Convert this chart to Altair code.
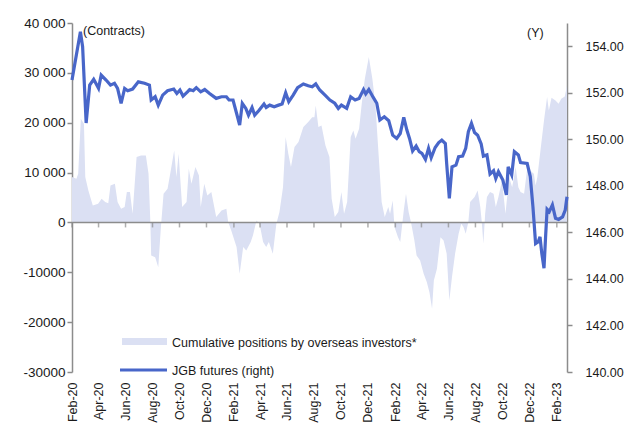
import altair as alt
import pandas as pd

# JGB futures (right axis, yen)
line_dates = [
    "2020-02-01", "2020-02-20", "2020-02-25", "2020-03-04", "2020-03-12", "2020-03-21",
    "2020-04-01", "2020-04-07", "2020-04-18", "2020-04-28", "2020-05-07", "2020-05-14",
    "2020-05-22", "2020-05-30", "2020-06-06", "2020-06-17", "2020-06-30", "2020-07-14",
    "2020-07-25", "2020-07-29", "2020-08-07", "2020-08-14", "2020-08-24", "2020-09-04",
    "2020-09-18", "2020-09-25", "2020-10-02", "2020-10-09", "2020-10-19", "2020-10-24",
    "2020-11-01", "2020-11-08", "2020-11-18", "2020-11-27", "2020-12-08", "2020-12-23",
    "2021-01-04", "2021-01-15", "2021-01-21", "2021-01-30", "2021-02-07", "2021-02-14",
    "2021-02-20", "2021-02-28", "2021-03-06", "2021-03-14", "2021-03-20", "2021-03-29",
    "2021-04-10", "2021-04-15", "2021-04-23", "2021-05-03", "2021-05-13", "2021-05-21",
    "2021-05-29", "2021-06-05", "2021-06-15", "2021-06-25", "2021-07-08", "2021-07-19",
    "2021-07-28", "2021-08-05", "2021-08-14", "2021-08-26", "2021-09-06", "2021-09-17",
    "2021-09-25", "2021-10-02", "2021-10-14", "2021-10-23", "2021-11-02", "2021-11-11",
    "2021-11-21", "2021-11-26", "2021-12-03", "2021-12-13", "2021-12-21", "2021-12-28",
    "2022-01-07", "2022-01-17", "2022-01-26", "2022-02-04", "2022-02-12", "2022-02-20",
    "2022-02-27", "2022-03-05", "2022-03-12", "2022-03-20", "2022-03-27", "2022-04-02",
    "2022-04-10", "2022-04-17", "2022-04-23", "2022-05-02", "2022-05-10", "2022-05-17",
    "2022-05-25", "2022-05-28", "2022-06-03", "2022-06-09", "2022-06-18", "2022-06-24",
    "2022-07-03", "2022-07-10", "2022-07-16", "2022-07-23", "2022-07-30", "2022-08-06",
    "2022-08-14", "2022-08-19", "2022-08-27", "2022-09-03", "2022-09-11", "2022-09-16",
    "2022-09-22", "2022-10-02", "2022-10-10", "2022-10-14", "2022-10-22", "2022-10-28",
    "2022-11-06", "2022-11-11", "2022-11-26", "2022-12-03", "2022-12-09", "2022-12-15",
    "2022-12-21", "2022-12-25", "2022-12-29", "2023-01-03", "2023-01-07", "2023-01-10",
    "2023-01-15", "2023-01-22", "2023-01-29", "2023-02-05", "2023-02-14", "2023-02-20",
    "2023-02-24",
]
line_values = [
    152.55, 154.62, 153.98, 150.70, 152.33, 152.58,
    152.19, 152.76, 152.55, 152.33, 152.41, 152.19,
    151.55, 152.19, 152.09, 152.16, 152.47, 152.41,
    152.33, 151.69, 151.83, 151.47, 151.90, 152.09,
    152.16, 151.97, 152.12, 151.86, 152.04, 152.14,
    152.09, 152.22, 152.04, 152.14, 151.97, 151.76,
    151.83, 151.83, 151.69, 151.69, 151.12, 150.61,
    151.55, 151.33, 151.04, 151.37, 151.04, 151.23,
    151.52, 151.37, 151.47, 151.40, 151.47, 151.52,
    152.00, 151.62, 151.90, 152.22, 152.38, 152.30,
    152.26, 152.38, 152.12, 151.90, 151.69, 151.55,
    151.33, 151.47, 151.33, 151.83, 151.69, 151.76,
    152.14, 151.95, 152.14, 151.80, 151.55, 150.83,
    150.97, 150.80, 150.18, 150.04, 150.25, 150.94,
    150.40, 150.04, 149.50, 149.71, 149.47, 149.40,
    149.14, 149.61, 149.21, 149.65, 149.86, 149.97,
    149.82, 148.96, 147.46, 148.82, 148.89, 149.25,
    149.28, 149.61, 150.33, 150.69, 150.29, 150.18,
    149.80, 149.28, 149.33, 148.51, 148.65, 148.32,
    148.61, 148.25, 147.61, 148.82, 148.47, 149.47,
    149.33, 149.00, 148.96, 148.40, 147.10, 145.52,
    145.60, 145.81, 145.10, 144.46, 145.96, 146.99,
    146.89, 147.18, 146.61, 146.56, 146.67, 146.96,
    147.53,
]

# Cumulative positions by overseas investors (left axis, contracts)
area_dates = [
    "2020-02-01", "2020-02-11", "2020-02-15", "2020-02-21", "2020-02-28", "2020-03-02",
    "2020-03-09", "2020-03-19", "2020-03-31", "2020-04-08", "2020-04-16", "2020-04-23",
    "2020-04-28", "2020-05-08", "2020-05-14", "2020-05-22", "2020-05-30", "2020-06-04",
    "2020-06-11", "2020-06-17", "2020-06-26", "2020-07-06", "2020-07-17", "2020-07-23",
    "2020-07-27", "2020-07-29", "2020-08-07", "2020-08-14", "2020-08-20", "2020-08-26",
    "2020-09-04", "2020-09-10", "2020-09-19", "2020-09-24", "2020-09-29", "2020-10-07",
    "2020-10-17", "2020-10-22", "2020-10-28", "2020-11-06", "2020-11-14", "2020-11-18",
    "2020-11-26", "2020-12-03", "2020-12-12", "2020-12-23", "2021-01-04", "2021-01-15",
    "2021-01-19", "2021-01-26", "2021-02-07", "2021-02-14", "2021-02-22", "2021-03-01",
    "2021-03-11", "2021-03-16", "2021-03-24", "2021-03-31", "2021-04-08", "2021-04-15",
    "2021-04-21", "2021-04-30", "2021-05-08", "2021-05-15", "2021-05-23", "2021-05-29",
    "2021-06-04", "2021-06-10", "2021-06-18", "2021-06-27", "2021-07-08", "2021-07-19",
    "2021-07-28", "2021-08-02", "2021-08-05", "2021-08-11", "2021-08-18", "2021-08-27",
    "2021-09-05", "2021-09-10", "2021-09-17", "2021-09-25", "2021-10-02", "2021-10-08",
    "2021-10-15", "2021-10-23", "2021-10-29", "2021-11-03", "2021-11-11", "2021-11-17",
    "2021-11-24", "2021-12-03", "2021-12-11", "2021-12-18", "2021-12-24", "2022-01-01",
    "2022-01-08", "2022-01-16", "2022-01-20", "2022-01-26", "2022-01-30", "2022-02-07",
    "2022-02-12", "2022-02-20", "2022-02-25", "2022-03-03", "2022-03-09", "2022-03-16",
    "2022-03-21", "2022-03-29", "2022-04-06", "2022-04-13", "2022-04-19", "2022-04-25",
    "2022-04-29", "2022-05-06", "2022-05-14", "2022-05-21", "2022-05-28", "2022-06-03",
    "2022-06-09", "2022-06-16", "2022-06-24", "2022-06-30", "2022-07-05", "2022-07-10",
    "2022-07-16", "2022-07-20", "2022-07-30", "2022-08-06", "2022-08-12", "2022-08-15",
    "2022-08-19", "2022-08-23", "2022-08-27", "2022-09-03", "2022-09-11", "2022-09-16",
    "2022-09-22", "2022-09-30", "2022-10-08", "2022-10-16", "2022-10-23", "2022-10-31",
    "2022-11-06", "2022-11-11", "2022-11-19", "2022-11-26", "2022-12-03", "2022-12-11",
    "2022-12-15", "2022-12-19", "2022-12-26", "2023-01-03", "2023-01-10", "2023-01-14",
    "2023-01-20", "2023-01-29", "2023-02-05", "2023-02-11", "2023-02-19", "2023-02-24",
]
area_values = [
    9090, 8770, 9770, 20800, 19800, 9090,
    6420, 3410, 3750, 4750, 4080, 3870,
    7420, 7760, 4080, 2740, 3070, 6080,
    6080, 1740, 13100, 13440, 13440, 9770,
    400, -6620, -6960, -8970, -940, 5760,
    6760, 9770, 14440, 9090, 13780, 3070,
    4080, 10770, 7760, 11100, 9430, 3070,
    7760, 5420, 6080, 1070, 2410, 2740,
    70, -1600, -4950, -10290, -4950, -5620,
    -3950, -2610, 400, -270, -3950, -4950,
    -3950, -6290, -270, 2070, 7080, 17110,
    13780, 11100, 15110, 16110, 19120, 20120,
    21120, 21120, 23470, 19120, 19460, 15450,
    13100, 4750, 1070, 2070, 6080, 1740,
    4080, 17110, 18460, 16790, 18800, 23810,
    28830, 33160, 28830, 23470, 15110, 4080,
    1070, 3070, 1740, 4410, -940, -2950,
    -3950, 2410, 5760, 2070, -270, -3610,
    -6620, -7620, -10290, -11970, -13980, -17310,
    -11630, -9290, -2950, -3610, -6290, -15650,
    -10970, -6290, -2270, -270, -940, -2270,
    70, 4080, 5080, 6420, 3070, 400,
    -4280, 1740, 5080, 6080, 5760, 3070,
    5080, 8430, 1740, 9090, 7080, 11100,
    7080, 6080, 5760, 10770, 10430, 9770,
    7420, 9090, 14440, 20460, 25140, 22470,
    25010, 24470, 23810, 24810, 25280, 27480,
]

tick_dates = [
    "2020-02-01", "2020-04-01", "2020-06-01", "2020-08-01", "2020-10-01", "2020-12-01",
    "2021-02-01", "2021-04-01", "2021-06-01", "2021-08-01", "2021-10-01", "2021-12-01",
    "2022-02-01", "2022-04-01", "2022-06-01", "2022-08-01", "2022-10-01", "2022-12-01",
    "2023-02-01",
]

left_ticks = [-30000, -20000, -10000, 0, 10000, 20000, 30000, 40000]
right_ticks = [140, 142, 144, 146, 148, 150, 152, 154]

LINE_COLOR = "#4866c9"
AREA_COLOR = "#dbe0f3"
AXIS_COLOR = "#8c8c8c"
TEXT_COLOR = "#1a1a1a"
FONT = "Liberation Sans"

W, H = 495, 349

area_df = pd.DataFrame({"date": area_dates, "value": area_values})
line_df = pd.DataFrame({"date": line_dates, "price": line_values})
tick_df = pd.DataFrame({"date": tick_dates})
one = pd.DataFrame({"a": [0]})


def dt(s):
    y, m, d = (int(p) for p in s.split("-"))
    return alt.DateTime(year=y, month=m, date=d, utc=True)


x_scale = alt.Scale(type="utc", domain=[dt("2020-02-01"), dt("2023-02-24")])
left_scale = alt.Scale(domain=[-30000, 40000], nice=False, zero=False)
right_scale = alt.Scale(domain=[140, 155], nice=False, zero=False)

x_axis = alt.Axis(
    values=[dt(s) for s in tick_dates],
    format="%b-%y",
    labelAngle=270,
    labelOverlap=False,
    labelFlush=False,
    domain=False,
    ticks=False,
    tickSize=0,
    labelPadding=10,
    grid=False,
    labelFont=FONT,
    labelFontSize=12.5,
    labelColor=TEXT_COLOR,
)

area = alt.Chart(area_df).mark_area(color=AREA_COLOR, opacity=1).encode(
    x=alt.X("date:T", scale=x_scale, title=None, axis=x_axis),
    y=alt.Y(
        "value:Q",
        scale=left_scale,
        title=None,
        axis=alt.Axis(
            orient="left",
            values=left_ticks,
            labelExpr="datum.value > 0 ? replace(format(datum.value, ','), ',', ' ') : toString(datum.value)",
            labelOverlap=False,
            labelFlush=False,
            domainColor=AXIS_COLOR,
            domainWidth=1.5,
            tickColor=AXIS_COLOR,
            tickWidth=1.5,
            tickSize=5,
            labelPadding=2,
            grid=False,
            labelFont=FONT,
            labelFontSize=13.5,
            labelColor=TEXT_COLOR,
        ),
    ),
)

zero_rule = alt.Chart(one).mark_rule(color=AXIS_COLOR, strokeWidth=1.5).encode(
    y=alt.Y(datum=0, type="quantitative", scale=left_scale)
)

x_ticks = alt.Chart(tick_df).mark_tick(
    orient="vertical", color=AXIS_COLOR, size=5, thickness=1.5, yOffset=2.5
).encode(
    x=alt.X("date:T", scale=x_scale, axis=x_axis),
    y=alt.Y(datum=0, type="quantitative", scale=left_scale),
)

left_layer = alt.layer(area, zero_rule, x_ticks)

line = alt.Chart(line_df).mark_line(color=LINE_COLOR, strokeWidth=3.2).encode(
    x=alt.X("date:T", scale=x_scale, axis=x_axis),
    y=alt.Y(
        "price:Q",
        scale=right_scale,
        title=None,
        axis=alt.Axis(
            orient="right",
            values=right_ticks,
            format=".2f",
            labelOverlap=False,
            labelFlush=False,
            domainColor=AXIS_COLOR,
            domainWidth=1.5,
            tickColor=AXIS_COLOR,
            tickWidth=1.5,
            tickSize=5,
            labelPadding=13,
            grid=False,
            labelFont=FONT,
            labelFontSize=12.5,
            labelColor=TEXT_COLOR,
        ),
    ),
)

text_kw = dict(font=FONT, fontSize=12.5, color=TEXT_COLOR, align="left", baseline="middle")

contracts = alt.Chart(one).mark_text(text="(Contracts)", **text_kw).encode(
    x=alt.value(11), y=alt.value(8)
)
yen = alt.Chart(one).mark_text(text="(Y)", **text_kw).encode(
    x=alt.value(455), y=alt.value(10)
)

leg_area = alt.Chart(one).mark_rect(color=AREA_COLOR).encode(
    x=alt.value(50), x2=alt.value(95), y=alt.value(315), y2=alt.value(322)
)
leg_area_txt = alt.Chart(one).mark_text(
    text="Cumulative positions by overseas investors*", **text_kw
).encode(x=alt.value(100), y=alt.value(320))
leg_line = alt.Chart(one).mark_rule(color=LINE_COLOR, strokeWidth=3).encode(
    x=alt.value(48), x2=alt.value(95), y=alt.value(347)
)
leg_line_txt = alt.Chart(one).mark_text(text="JGB futures (right)", **text_kw).encode(
    x=alt.value(100), y=alt.value(348)
)

chart = (
    alt.layer(
        left_layer, line, contracts, yen, leg_area, leg_area_txt, leg_line, leg_line_txt
    )
    .resolve_scale(y="independent")
    .properties(
        width=W,
        height=H,
        autosize=alt.AutoSizeParams(type="none"),
        padding={"left": 64, "top": 15, "right": 60, "bottom": 60},
        background="white",
    )
    .configure_view(stroke="transparent")
    .configure_axisX(labelOverlap=False, labelFlush=False)
)

chart.save("out.html", embed_options={"renderer": "svg", "actions": False})
